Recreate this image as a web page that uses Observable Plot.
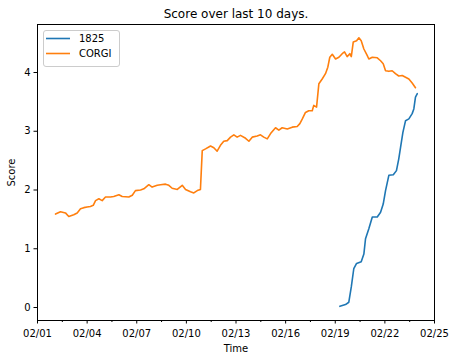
<!DOCTYPE html>
<html>
<head>
<meta charset="utf-8">
<script src="https://cdn.jsdelivr.net/npm/d3@7"></script>
<script src="https://cdn.jsdelivr.net/npm/@observablehq/plot@0.6"></script>
<style>
  html, body { margin: 0; padding: 0; background: white; }
</style>
</head>
<body>
<div id="chart"></div>
<script>
// Days since 02/01 (2021-02-01 00:00 UTC)
const orangeDays = [1.09,1.39,1.69,1.89,2.19,2.40,2.60,2.80,3.00,3.20,3.37,3.51,3.71,3.91,4.11,4.41,4.61,4.92,5.12,5.52,5.73,5.92,6.23,6.43,6.73,6.93,7.24,7.44,7.74,7.94,8.14,8.45,8.75,8.95,9.25,9.45,9.66,9.85,9.96,10.16,10.46,10.66,10.86,11.06,11.26,11.47,11.67,11.87,12.07,12.27,12.58,12.78,12.98,13.28,13.48,13.68,13.89,14.09,14.39,14.59,14.79,15.10,15.40,15.70,15.86,16.01,16.20,16.40,16.61,16.70,16.87,17.01,17.21,17.41,17.55,17.67,17.82,18.02,18.22,18.42,18.56,18.72,18.88,18.97,19.09,19.29,19.43,19.57,19.73,19.93,20.03,20.24,20.54,20.74,20.90,21.04,21.24,21.44,21.64,21.84,22.05,22.25,22.45,22.65,22.85];
const orangeScore = [1.59,1.63,1.61,1.55,1.58,1.61,1.68,1.70,1.71,1.72,1.74,1.82,1.85,1.82,1.88,1.88,1.89,1.92,1.89,1.88,1.91,1.99,2.00,2.02,2.09,2.05,2.08,2.09,2.10,2.08,2.03,2.01,2.08,2.01,1.97,1.95,1.99,2.01,2.67,2.70,2.75,2.72,2.66,2.76,2.83,2.84,2.90,2.94,2.90,2.93,2.88,2.83,2.90,2.92,2.94,2.90,2.87,2.96,3.06,3.02,3.06,3.04,3.07,3.08,3.13,3.21,3.32,3.35,3.35,3.44,3.41,3.81,3.89,3.98,4.09,4.26,4.31,4.23,4.26,4.32,4.35,4.27,4.32,4.27,4.52,4.54,4.59,4.54,4.40,4.29,4.23,4.26,4.25,4.20,4.15,4.03,4.02,4.03,3.98,3.94,3.95,3.92,3.89,3.82,3.74];
const blueDays = [18.28,18.62,18.82,18.97,19.12,19.29,19.57,19.73,19.83,20.03,20.24,20.54,20.74,20.90,21.04,21.24,21.51,21.70,21.84,21.95,22.09,22.25,22.45,22.65,22.75,22.85,22.96];
const blueScore = [0.02,0.05,0.09,0.35,0.66,0.75,0.78,0.91,1.17,1.34,1.54,1.54,1.62,1.76,1.99,2.25,2.26,2.33,2.53,2.73,2.98,3.18,3.21,3.30,3.38,3.58,3.64];

const seriesNames = ["1825", "CORGI"];
const seriesColors = ["#1f77b4", "#ff7f0e"];
const yTicks = [0, 1, 2, 3, 4];
const xMajorDays = [0, 3, 6, 9, 12, 15, 18, 21, 24];
const xMinorDays = [1.5, 4.5, 7.5, 10.5, 13.5, 16.5, 19.5, 22.5];
const titleText = "Score over last 10 days.";
const xLabel = "Time";
const yLabel = "Score";

const t0 = Date.UTC(2021, 1, 1);
const toDate = d => new Date(t0 + d * 86400000);

const blueData = blueDays.map((d, i) => ({t: toDate(d), v: blueScore[i]}));
const orangeData = orangeDays.map((d, i) => ({t: toDate(d), v: orangeScore[i]}));

const font = "DejaVu Sans, sans-serif";

const chart = Plot.plot({
  width: 458,
  height: 360,
  marginLeft: 37,
  marginRight: 24,
  marginTop: 24,
  marginBottom: 40,
  style: {fontFamily: font, fontSize: "10px", background: "white", color: "black"},
  x: {type: "utc", domain: [toDate(0), toDate(24)]},
  y: {domain: [-0.221, 4.817]},
  marks: [
    Plot.axisY({ticks: yTicks, tickSize: 3.5, tickPadding: 3.5, tickFormat: d => String(d),
      label: yLabel, labelAnchor: "center", labelArrow: "none", labelOffset: 30, fontSize: 10}),
    Plot.axisX({ticks: xMajorDays.map(toDate), tickSize: 3.5, tickPadding: 6,
      tickFormat: d3.utcFormat("%m/%d"), label: xLabel, labelAnchor: "center",
      labelArrow: "none", labelOffset: 31, fontSize: 10}),
    Plot.axisX({ticks: xMinorDays.map(toDate), tickSize: 2, tickFormat: () => "", label: null}),
    Plot.frame({stroke: "black", strokeWidth: 1}),
    Plot.line(blueData, {x: "t", y: "v", stroke: seriesColors[0], strokeWidth: 1.6}),
    Plot.line(orangeData, {x: "t", y: "v", stroke: seriesColors[1], strokeWidth: 1.6}),
    Plot.text([titleText], {frameAnchor: "top", lineAnchor: "middle", dy: -10, fontSize: 12, fill: "black"})
  ]
});

document.getElementById("chart").appendChild(chart);

// Legend (upper left inside the frame)
const svg = d3.select(chart);
const lg = svg.append("g").attr("font-family", font).attr("font-size", 10).attr("text-anchor", "start");
lg.append("rect").attr("x", 43.5).attr("y", 30.5).attr("width", 76).attr("height", 36)
  .attr("rx", 2.5).attr("fill", "white").attr("fill-opacity", 0.8)
  .attr("stroke", "#cccccc").attr("stroke-width", 1);
seriesNames.forEach((name, i) => {
  const y = 38.5 + i * 15;
  lg.append("line").attr("x1", 46).attr("x2", 70).attr("y1", y).attr("y2", y)
    .attr("stroke", seriesColors[i]).attr("stroke-width", 1.6);
  lg.append("text").attr("x", 79).attr("y", y).attr("dy", "0.35em")
    .attr("text-anchor", "start").attr("fill", "black").text(name);
});
</script>
</body>
</html>
